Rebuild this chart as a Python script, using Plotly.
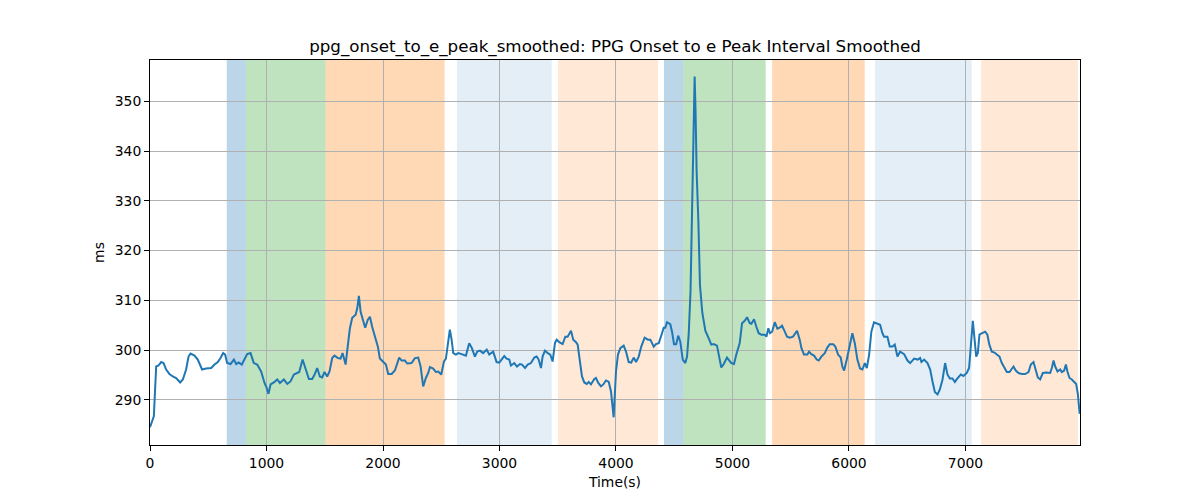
import plotly.graph_objects as go

# ---- data ----
time_s = [0, 33, 53, 73, 96, 116, 139, 167, 196, 224, 259, 282, 310, 331, 348, 382, 410, 430, 447, 482,
          525, 554, 582, 605, 628, 645, 662, 691, 720, 740, 760, 788, 811, 834, 863, 891, 920, 954, 983, 1000,
          1017, 1035, 1063, 1092, 1115, 1149, 1178, 1206, 1235, 1263, 1281, 1310, 1335, 1364, 1392, 1413, 1435, 1458, 1478, 1498,
          1521, 1541, 1564, 1584, 1613, 1636, 1653, 1679, 1699, 1716, 1736, 1765, 1779, 1793, 1808, 1827, 1847, 1870, 1888, 1907,
          1937, 1956, 1973, 2002, 2025, 2045, 2074, 2102, 2122, 2139, 2160, 2188, 2208, 2245, 2274, 2302, 2323, 2345, 2368, 2388,
          2403, 2431, 2454, 2474, 2500, 2523, 2540, 2555, 2574, 2589, 2603, 2626, 2646, 2675, 2712, 2740, 2763, 2789, 2809, 2832,
          2860, 2890, 2912, 2946, 2975, 2998, 3021, 3041, 3061, 3084, 3098, 3127, 3150, 3176, 3193, 3219, 3242, 3270, 3299, 3319,
          3336, 3356, 3370, 3390, 3414, 3436, 3456, 3476, 3491, 3513, 3542, 3565, 3585, 3599, 3614, 3633, 3657, 3671, 3691, 3708,
          3728, 3749, 3766, 3785, 3814, 3828, 3848, 3871, 3891, 3914, 3938, 3957, 3980, 4000, 4017, 4037, 4066, 4086, 4109, 4131,
          4152, 4172, 4195, 4217, 4246, 4275, 4295, 4324, 4343, 4367, 4395, 4410, 4423, 4438, 4466, 4481, 4498, 4517, 4534, 4552,
          4573, 4595, 4610, 4624, 4640, 4655, 4668, 4675, 4683, 4692, 4707, 4721, 4741, 4767, 4795, 4818, 4839, 4867, 4882, 4904,
          4925, 4953, 4990, 5013, 5033, 5062, 5082, 5105, 5125, 5148, 5162, 5185, 5205, 5225, 5248, 5277, 5291, 5308, 5322, 5340,
          5363, 5385, 5405, 5425, 5449, 5468, 5492, 5520, 5554, 5577, 5592, 5614, 5643, 5657, 5677, 5700, 5723, 5740, 5763, 5792,
          5814, 5835, 5864, 5883, 5906, 5929, 5943, 5958, 5981, 6001, 6029, 6050, 6072, 6095, 6115, 6136, 6153, 6173, 6192, 6215,
          6239, 6267, 6287, 6301, 6330, 6350, 6373, 6393, 6416, 6439, 6473, 6502, 6525, 6559, 6588, 6611, 6622, 6645, 6674, 6697,
          6717, 6737, 6760, 6780, 6803, 6825, 6845, 6866, 6888, 6909, 6931, 6960, 6982, 7011, 7031, 7048, 7063, 7080, 7092, 7106,
          7120, 7143, 7169, 7188, 7205, 7226, 7249, 7269, 7292, 7312, 7332, 7355, 7378, 7398, 7412, 7432, 7455, 7484, 7512, 7541,
          7561, 7584, 7604, 7621, 7641, 7664, 7698, 7727, 7741, 7756, 7770, 7790, 7813, 7827, 7847, 7862, 7876, 7893, 7913, 7933,
          7950, 7965, 7980]

interval_ms = [284.5, 286.7, 296.7, 296.9, 297.6, 297.4, 296.1, 295.2, 294.7, 294.4, 293.5, 294.1, 296.1, 298.7, 299.3, 298.9, 298.1, 297.1, 296.1, 296.3,
               296.4, 297.1, 297.6, 298.4, 299.4, 299.1, 297.4, 297.2, 298.1, 297.2, 297.5, 297.1, 298.1, 299.2, 299.4, 297.4, 297.1, 295.7, 293.4, 292.5,
               291.2, 293.1, 293.5, 294.1, 293.4, 294.1, 293.2, 293.7, 295.1, 295.4, 295.6, 298.1, 296.4, 294.2, 294.2, 295.1, 296.4, 294.7, 294.5, 295.6,
               294.7, 295.7, 298.4, 298.9, 298.4, 298.3, 299.4, 297.1, 301.1, 304.4, 306.5, 307.1, 308.4, 310.9, 307.7, 306.1, 304.5, 306.1, 306.7, 304.7,
               302.1, 300.7, 298.3, 297.6, 297.1, 295.2, 295.2, 295.9, 297.4, 298.5, 297.9, 297.9, 297.3, 297.4, 298.4, 298.5, 296.7, 292.7, 294.4, 295.4,
               296.6, 296.3, 295.6, 295.7, 295.1, 297.7, 298.3, 301.1, 304.1, 302.1, 299.4, 299.1, 299.4, 299.2, 298.9, 301.4, 300.4, 298.7, 299.7, 299.9,
               299.4, 300.1, 299.1, 299.7, 297.6, 297.5, 298.1, 298.8, 298.3, 298.1, 296.9, 297.4, 296.7, 297.2, 297.1, 296.4, 297.1, 297.4, 298.5, 298.7,
               298.1, 296.4, 298.7, 299.9, 299.4, 299.1, 297.7, 301.4, 302.1, 301.6, 301.2, 302.7, 302.7, 303.4, 303.9, 302.1, 301.6, 301.1, 297.7, 294.7,
               293.5, 293.2, 293.6, 293.1, 294.2, 294.4, 293.4, 292.7, 293.1, 293.9, 293.6, 291.7, 286.5, 295.7, 299.1, 300.4, 300.9, 299.7, 297.6, 297.5,
               298.5, 297.6, 298.7, 300.7, 302.5, 302.1, 302.1, 300.7, 301.2, 301.4, 303.4, 304.5, 304.5, 305.6, 305.2, 303.7, 301.2, 301.2, 302.9, 301.7,
               298.1, 297.4, 298.7, 303.1, 312.0, 330.0, 350.0, 355.0, 348.0, 336.0, 326.0, 313.0, 307.5, 303.9, 302.4, 301.1, 301.2, 300.9, 299.1, 296.5,
               297.2, 298.5, 297.4, 297.2, 299.1, 301.4, 305.4, 305.9, 306.6, 305.4, 305.3, 306.2, 304.7, 303.4, 303.1, 303.1, 302.7, 304.4, 303.4, 303.7,
               305.6, 304.3, 304.5, 304.9, 303.7, 302.7, 302.5, 302.7, 303.9, 302.1, 300.4, 299.1, 299.1, 299.7, 299.2, 298.9, 298.1, 297.9, 298.7, 299.4,
               300.5, 301.2, 301.2, 300.7, 299.1, 298.5, 296.7, 295.9, 298.1, 300.4, 303.4, 301.4, 298.1, 296.3, 296.1, 297.4, 296.4, 299.1, 303.7, 305.6,
               305.4, 305.1, 303.4, 302.7, 302.7, 300.7, 300.7, 301.1, 298.7, 299.7, 299.2, 297.9, 297.4, 298.3, 298.1, 298.4, 297.6, 298.1, 297.4, 296.1,
               293.7, 291.6, 291.1, 292.1, 294.1, 297.4, 295.1, 294.3, 294.3, 293.6, 294.3, 295.1, 294.8, 295.4, 296.4, 301.7, 305.9, 301.7, 298.7, 299.4,
               303.1, 303.4, 303.7, 303.1, 301.1, 299.7, 299.5, 299.1, 298.7, 297.4, 296.5, 295.6, 295.6, 296.4, 296.7, 295.9, 295.4, 295.2, 295.2, 295.6,
               297.1, 297.6, 296.1, 294.5, 294.1, 295.4, 295.5, 295.4, 296.4, 297.9, 296.7, 295.7, 296.1, 295.6, 295.9, 297.1, 295.6, 294.4, 294.1, 293.5,
               293.2, 291.1, 287.2]

span_starts = [659, 823, 1507, 2635, 3502, 4412, 4578, 5340, 6224, 7134]
span_ends = [823, 1507, 2529, 3448, 4361, 4578, 5285, 6135, 7054, 7965]
span_kinds = ["blue", "green", "orange", "lightblue", "lightorange",
              "blue", "green", "orange", "lightblue", "lightorange"]

x_ticks = [0, 1000, 2000, 3000, 4000, 5000, 6000, 7000]
y_ticks = [290, 300, 310, 320, 330, 340, 350]

span_colors = {
    "blue": "rgba(31,119,180,0.30)",
    "green": "rgba(44,160,44,0.30)",
    "orange": "rgba(255,127,14,0.30)",
    "lightblue": "rgba(31,119,180,0.12)",
    "lightorange": "rgba(255,127,14,0.17)",
}

FONT = "DejaVu Sans"

fig = go.Figure()
fig.add_trace(go.Scatter(x=time_s, y=interval_ms, mode="lines",
                         line=dict(color="#1f77b4", width=2), showlegend=False))

for s, e, k in zip(span_starts, span_ends, span_kinds):
    fig.add_vrect(x0=s, x1=e, fillcolor=span_colors[k], line_width=0, layer="below")

fig.update_layout(
    width=1200, height=500,
    margin=dict(l=142, r=128, t=52, b=63),
    plot_bgcolor="white", paper_bgcolor="white",
    font=dict(family=FONT, color="black", size=13.9),
    title=dict(text="ppg_onset_to_e_peak_smoothed: PPG Onset to e Peak Interval Smoothed",
               x=0.5, xref="paper", xanchor="center",
               y=1 - 38 / 500, yref="container", yanchor="middle",
               font=dict(family=FONT, size=16.7, color="black")),
    showlegend=False,
)
fig.update_xaxes(range=[0, 7983], tickvals=x_ticks, ticks="outside", ticklen=5, tickwidth=1,
                 tickcolor="black", showline=True, linecolor="black", linewidth=1, mirror=True,
                 showgrid=True, gridcolor="#b0b0b0", gridwidth=1, zeroline=False,
                 title=dict(text="Time(s)", standoff=7, font=dict(size=13.9)))
fig.update_yaxes(range=[280.93, 358.3], tickvals=y_ticks, ticks="outside", ticklen=5, tickwidth=1,
                 tickcolor="black", showline=True, linecolor="black", linewidth=1, mirror=True,
                 showgrid=True, gridcolor="#b0b0b0", gridwidth=1, zeroline=False,
                 title=dict(text="ms", standoff=6, font=dict(size=13.9)))

fig.write_html("out.html")
